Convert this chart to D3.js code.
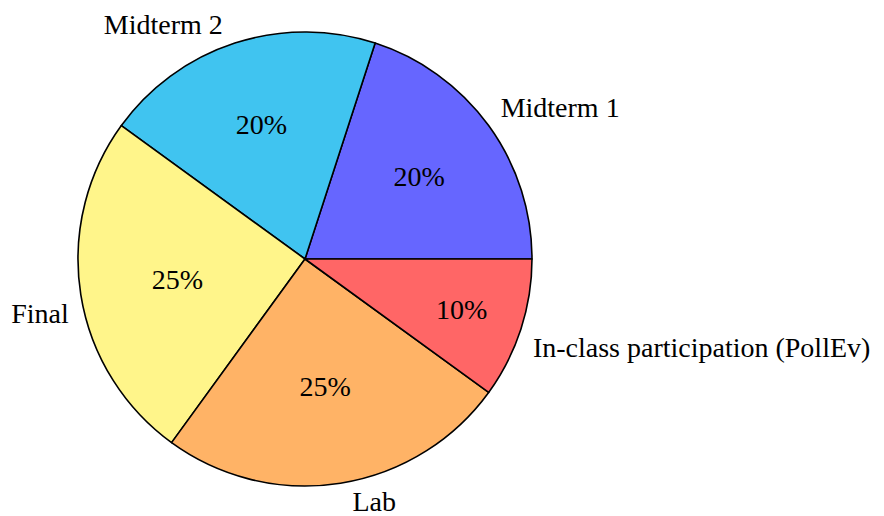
<!DOCTYPE html>
<html>
<head>
<meta charset="utf-8">
<script src="https://cdn.jsdelivr.net/npm/d3@7"></script>
<style>
  html, body { margin: 0; padding: 0; background: #fff; }
  svg text { font-family: "Liberation Serif", "DejaVu Serif", serif; }
</style>
</head>
<body>
<div id="chart"></div>
<script>
// grade breakdown, counter-clockwise from 3 o'clock
const categories = ['Midterm 1', 'Midterm 2', 'Final', 'Lab', 'In-class participation (PollEv)'];
const values = [20, 20, 25, 25, 10];
const colors = ['#6666FF', '#40C4F0', '#FFF58A', '#FFB366', '#FF6666'];

const width = 884;
const height = 516;
const cx = 305;
const cy = 259;
const radius = 227;
const fontSize = 28;

const data = categories.map((c, i) => ({ label: c, value: values[i], color: colors[i] }));

const svg = d3.select('#chart')
  .append('svg')
  .attr('width', width)
  .attr('height', height);

const g = svg.append('g')
  .attr('transform', `translate(${cx},${cy})`);

// d3 angles run clockwise from 12 o'clock; start at 3 o'clock and go the other way
const pie = d3.pie()
  .value(d => d.value)
  .sort(null)
  .startAngle(Math.PI / 2)
  .endAngle(Math.PI / 2 - 2 * Math.PI);

const arc = d3.arc()
  .innerRadius(0)
  .outerRadius(radius);

const arcs = pie(data);

g.selectAll('path')
  .data(arcs)
  .enter()
  .append('path')
  .attr('d', arc)
  .attr('fill', d => d.data.color)
  .attr('stroke', '#000')
  .attr('stroke-width', 1.6)
  .attr('stroke-linejoin', 'round');

// math angle (radians, ccw from east) of the middle of a slice
const midAngle = d => Math.PI / 2 - (d.startAngle + d.endAngle) / 2;
const spanDeg = d => Math.abs(d.endAngle - d.startAngle) * 180 / Math.PI;
// narrow slices get their number further out
const innerPos = d => radius * (0.83 - 0.0029 * spanDeg(d));

g.selectAll('text.pct')
  .data(arcs)
  .enter()
  .append('text')
  .attr('class', 'pct')
  .attr('text-anchor', 'middle')
  .attr('dominant-baseline', 'central')
  .style('font-size', fontSize + 'px')
  .attr('x', d => innerPos(d) * Math.cos(midAngle(d)))
  .attr('y', d => -innerPos(d) * Math.sin(midAngle(d)))
  .text(d => d.data.value + '%');

// outside labels, anchored like tikz labels at the rim
const hpad = 12;
g.selectAll('text.lbl')
  .data(arcs)
  .enter()
  .append('text')
  .attr('class', 'lbl')
  .style('font-size', fontSize + 'px')
  .attr('text-anchor', d => {
    const c = Math.cos(midAngle(d));
    return c > 0.02 ? 'start' : (c < -0.02 ? 'end' : 'middle');
  })
  .attr('x', d => {
    const c = Math.cos(midAngle(d));
    return radius * c + (c > 0.02 ? hpad : (c < -0.02 ? -hpad : 0));
  })
  .attr('y', d => {
    const s = Math.sin(midAngle(d));
    const y = -radius * s;
    // upper half: text sits above the rim point, lower half: hangs below it
    return s > 0 ? y - 9 : y + 28;
  })
  .text(d => d.data.label);
</script>
</body>
</html>
